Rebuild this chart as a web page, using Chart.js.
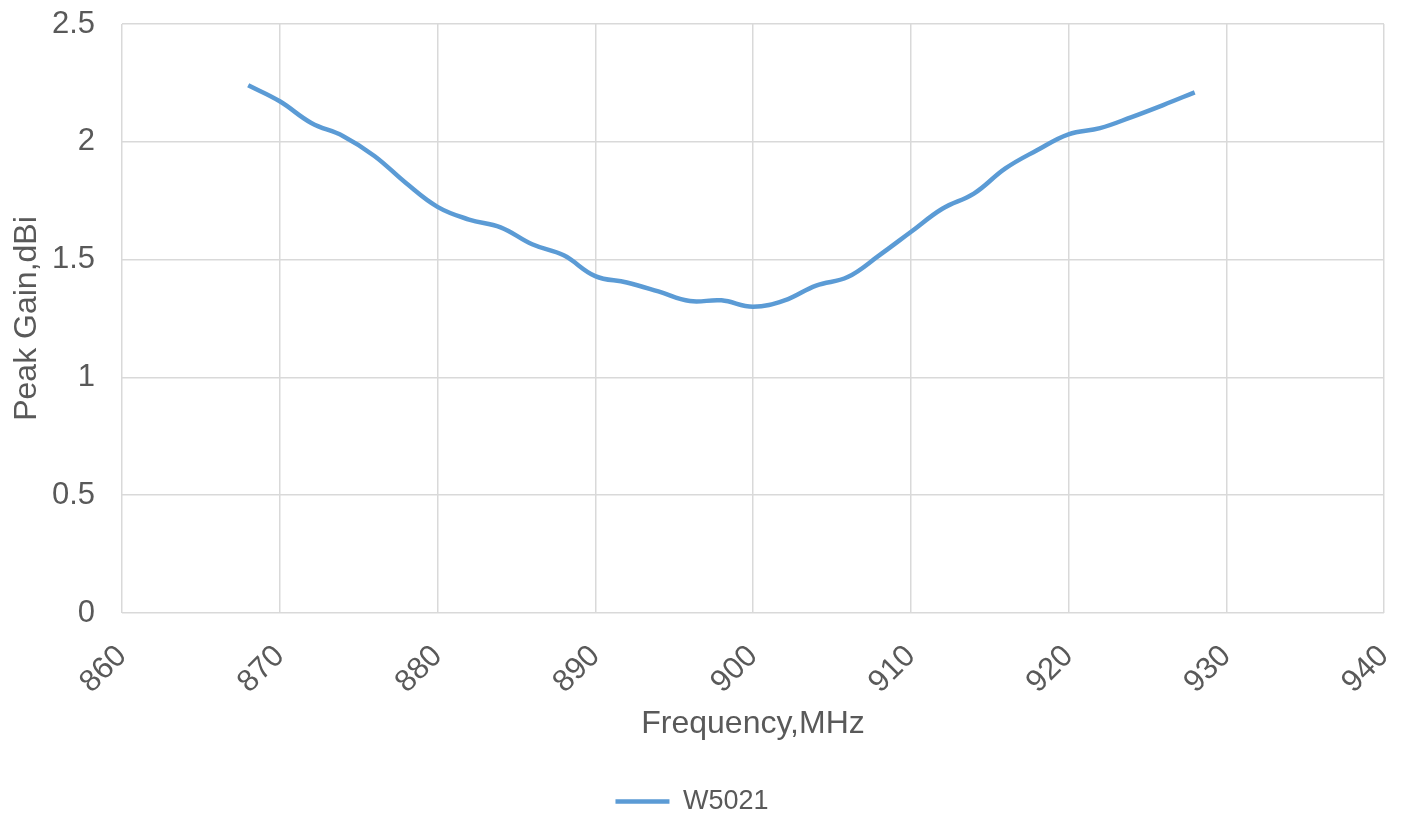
<!DOCTYPE html>
<html>
<head>
<meta charset="utf-8">
<script src="https://cdn.jsdelivr.net/npm/chart.js@4.4.0/dist/chart.umd.min.js"></script>
<style>
  html, body { margin: 0; padding: 0; background: #fff; }
  #wrap { width: 1402px; height: 815px; }
</style>
</head>
<body>
<div id="wrap"><canvas id="myChart" width="1402" height="815"></canvas></div>
<script>
// frequency in MHz, peak gain in dBi
const frequencies = [868, 870, 872, 874, 876, 878, 880, 882, 884, 886, 888, 890, 892, 894, 896, 898,
    900, 902, 904, 906, 908, 910, 912, 914, 916, 918, 920, 922, 924, 926, 928];
const peakGain = [2.24, 2.172, 2.08, 2.025, 1.94, 1.825, 1.724, 1.67, 1.637, 1.565, 1.518, 1.43, 1.403, 1.365, 1.324, 1.327,
    1.30, 1.327, 1.39, 1.426, 1.518, 1.617, 1.716, 1.78, 1.887, 1.964, 2.032, 2.058, 2.105, 2.156, 2.21];
const seriesName = 'W5021';
const xTicks = [860, 870, 880, 890, 900, 910, 920, 930, 940];
const yTicks = [0, 0.5, 1, 1.5, 2, 2.5];

const textColor = '#595959';
const gridColor = '#d9d9d9';
const lineColor = '#5b9bd5';
const fontFamily = '"Liberation Sans", Arial, sans-serif';
const fontSize = 31;

const canvasContext = document.getElementById('myChart').getContext('2d');

const myChart = new Chart(canvasContext, {
    type: 'line',
    data: {
        datasets: [
            {
                label: seriesName,
                data: frequencies.map((f, i) => ({ x: f, y: peakGain[i] })),
                borderColor: lineColor,
                backgroundColor: lineColor,
                borderWidth: 4.5,
                pointRadius: 0,
                tension: 0.4,
                fill: false,
            }
        ],
    },
    options: {
        responsive: false,
        animation: false,
        layout: {
            padding: { top: 24, right: 18, left: 0, bottom: -10 }
        },
        plugins: {
            tooltip: { enabled: false },
            legend: {
                position: 'bottom',
                labels: {
                    color: textColor,
                    font: { family: fontFamily, size: 27 },
                    boxWidth: 54,
                    boxHeight: 0,
                    padding: 0,
                }
            }
        },
        scales: {
            x: {
                type: 'linear',
                min: xTicks[0],
                max: xTicks[xTicks.length - 1],
                afterBuildTicks: (scale) => { scale.ticks = xTicks.map(v => ({ value: v })); },
                ticks: {
                    color: textColor,
                    font: { family: fontFamily, size: fontSize },
                    minRotation: 45,
                    maxRotation: 45,
                    padding: 25,
                },
                grid: { color: gridColor, lineWidth: 1.5, drawTicks: false },
                border: { display: false },
                title: {
                    display: true,
                    text: 'Frequency,MHz',
                    color: textColor,
                    font: { family: fontFamily, size: 32 },
                    padding: { top: 0, bottom: 45 },
                },
                afterFit: (scale) => {
                    scale.height = 175;
                    scale.paddingLeft = 0;
                    scale.paddingRight = 0;
                },
            },
            y: {
                min: 0,
                max: 2.5,
                afterBuildTicks: (scale) => { scale.ticks = yTicks.map(v => ({ value: v })); },
                ticks: {
                    color: textColor,
                    font: { family: fontFamily, size: fontSize },
                    padding: 27,
                    callback: (v) => String(v),
                },
                grid: { color: gridColor, lineWidth: 1.5, drawTicks: false },
                border: { display: false },
                title: {
                    display: true,
                    text: 'Peak Gain,dBi',
                    color: textColor,
                    font: { family: fontFamily, size: 32 },
                    padding: { top: 8, bottom: 0 },
                },
                afterFit: (scale) => {
                    scale.width = 122;
                    scale.paddingTop = 0;
                    scale.paddingBottom = 0;
                },
            }
        }
    }
});
</script>
</body>
</html>
